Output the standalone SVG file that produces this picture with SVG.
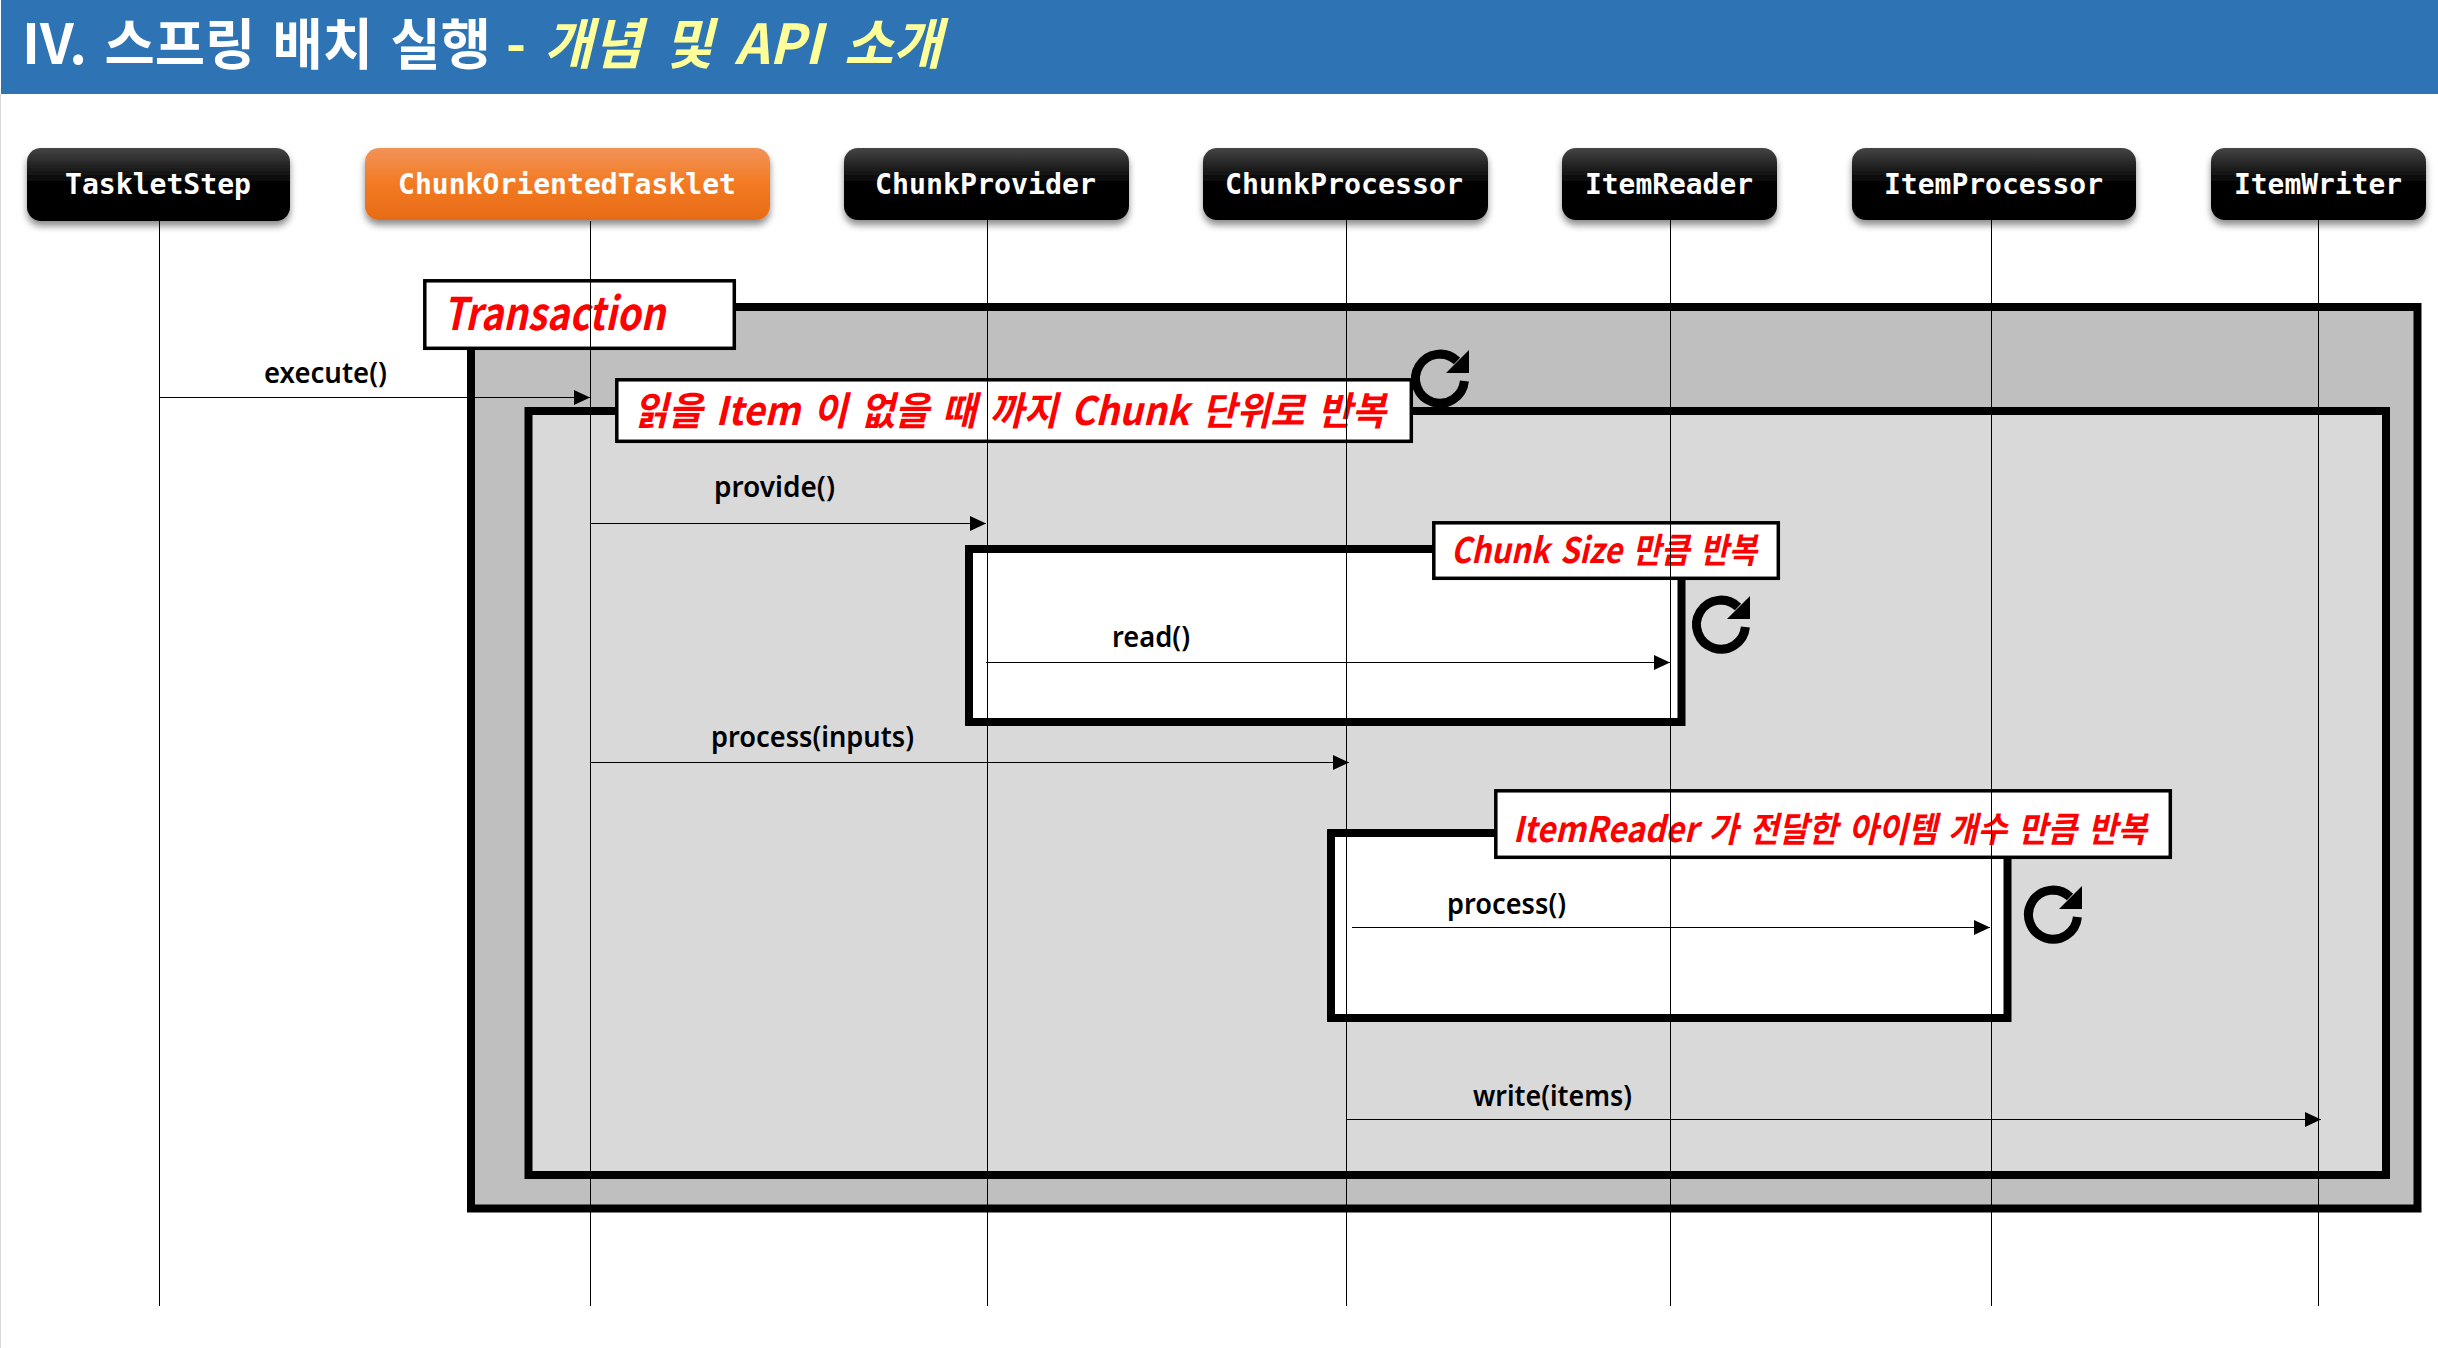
<svg xmlns="http://www.w3.org/2000/svg" xmlns:xlink="http://www.w3.org/1999/xlink" width="2438" height="1348" viewBox="0 0 2438 1348">
<defs>
<style>
.actor{font:bold 28px "DejaVu Sans Mono","Liberation Mono",monospace;fill:#fff;text-anchor:start}
.life{stroke:#000;stroke-width:1;fill:none}
.msg{stroke:#000;stroke-width:1;fill:none;marker-end:url(#ah)}
.lbl{font:600 28px "Noto Sans","Noto Sans CJK KR",sans-serif;fill:#000}
.cap{font:italic bold 39px "Noto Sans CJK KR","Noto Sans",sans-serif;fill:#f00;word-spacing:5px}
.capbox{fill:#fff;stroke:#000;stroke-width:3.5}
.frame{stroke:#000;stroke-width:8}
.ttl{font-family:"Noto Sans CJK KR",sans-serif;font-weight:700;font-size:55px;word-spacing:10px}
</style>
<linearGradient id="gk" x1="0" y1="0" x2="0" y2="1"><stop offset="0" stop-color="#454545"/><stop offset=".5" stop-color="#000"/><stop offset="1" stop-color="#000"/></linearGradient>
<linearGradient id="go" x1="0" y1="0" x2="0" y2="1"><stop offset="0" stop-color="#f29358"/><stop offset=".5" stop-color="#f37a22"/><stop offset="1" stop-color="#e76b16"/></linearGradient>
<filter id="sh" x="-10%" y="-20%" width="120%" height="150%"><feDropShadow dx="0" dy="5" stdDeviation="3.5" flood-color="#000" flood-opacity=".45"/></filter>
<marker id="ah" markerUnits="userSpaceOnUse" markerWidth="16" markerHeight="16" refX="16" refY="8" orient="auto"><path d="M0 0.5L16 8L0 15.5Z" fill="#000"/></marker>
<symbol id="loop" viewBox="0 0 58 58" overflow="visible"><path d="M46 12A24.5 24.5 0 1 0 53.4 32" fill="none" stroke="#000" stroke-width="9"/><path d="M58 1V24H35Z" fill="#000"/></symbol>
</defs>
<rect width="2438" height="1348" fill="#fff"/>
<rect x="0" y="94" width="1" height="1254" fill="#d9d9d9"/>
<g id="header">
<rect x="1" y="0" width="2437" height="94" fill="#2e74b5"/>
<text class="ttl" x="22" y="64" fill="#fff" style="word-spacing:5px" textLength="469" lengthAdjust="spacingAndGlyphs">IV. 스프링 배치 실행</text>
<text class="ttl" x="506" y="64" fill="#ffff99" textLength="20" lengthAdjust="spacingAndGlyphs">-</text>
<text class="ttl" x="544" y="64" font-style="italic" fill="#ffff99" textLength="398" lengthAdjust="spacingAndGlyphs">개념 및 API 소개</text>
</g>
<g id="frame-transaction"><rect class="frame" x="471" y="307" width="1946.5" height="901.5" fill="#bfbfbf"/></g>
<g id="frame-chunk"><rect class="frame" x="528.5" y="411" width="1857.5" height="764" fill="#d9d9d9"/></g>
<g id="frame-read"><rect class="frame" x="969" y="549" width="712.5" height="173" fill="#fff"/></g>
<g id="frame-process"><rect class="frame" x="1331" y="833" width="676.5" height="185" fill="#fff"/></g>
<g id="label-transaction"><rect class="capbox" x="424.8" y="280.8" width="309.5" height="67.5"/><text class="cap" x="443" y="330" style="font-size:45px" textLength="222" lengthAdjust="spacingAndGlyphs">Transaction</text></g>
<g id="label-chunk"><rect class="capbox" x="616.8" y="379.8" width="794.5" height="61.5"/><text class="cap" x="634" y="425" textLength="752" lengthAdjust="spacingAndGlyphs">읽을 Item 이 없을 때 까지 Chunk 단위로 반복</text></g>
<g id="label-size"><rect class="capbox" x="1433.8" y="522.8" width="344.5" height="55.5"/><text class="cap" x="1451" y="563" style="font-size:35px;word-spacing:4px" textLength="306" lengthAdjust="spacingAndGlyphs">Chunk Size 만큼 반복</text></g>
<g id="label-item"><rect class="capbox" x="1495.8" y="790.8" width="674.5" height="66.5"/><text class="cap" x="1513" y="842" style="font-size:35px;word-spacing:4px" textLength="634" lengthAdjust="spacingAndGlyphs">ItemReader 가 전달한 아이템 개수 만큼 반복</text></g>
<use id="loop-1" xlink:href="#loop" href="#loop" x="1411" y="349" width="58" height="58"/>
<use id="loop-2" xlink:href="#loop" href="#loop" x="1692" y="595" width="58" height="58"/>
<use id="loop-3" xlink:href="#loop" href="#loop" x="2024" y="885" width="58" height="58"/>
<g id="connectors">
<path class="life" d="M159.5 221V1306"/>
<path class="life" d="M590.5 221V1306"/>
<path class="life" d="M987.5 220V1306"/>
<path class="life" d="M1346.5 220V1306"/>
<path class="life" d="M1670.5 220V1306"/>
<path class="life" d="M1991.5 220V1306"/>
<path class="life" d="M2318.5 220V1306"/>
<path class="msg" d="M160 397.5H590"/>
<path class="msg" d="M590 523.5H986"/>
<path class="msg" d="M986 662.5H1670"/>
<path class="msg" d="M590 762.5H1349"/>
<path class="msg" d="M1352 927.5H1990"/>
<path class="msg" d="M1347 1119.5H2321"/>
</g>
<g id="msg-labels">
<text class="lbl" x="264" y="383" textLength="123" lengthAdjust="spacingAndGlyphs">execute()</text>
<text class="lbl" x="714" y="497" textLength="121" lengthAdjust="spacingAndGlyphs">provide()</text>
<text class="lbl" x="1112" y="647" textLength="78" lengthAdjust="spacingAndGlyphs">read()</text>
<text class="lbl" x="711" y="747" textLength="203" lengthAdjust="spacingAndGlyphs">process(inputs)</text>
<text class="lbl" x="1447" y="914" textLength="119" lengthAdjust="spacingAndGlyphs">process()</text>
<text class="lbl" x="1473" y="1106" textLength="159" lengthAdjust="spacingAndGlyphs">write(items)</text>
</g>
<g id="actor-taskletstep"><rect x="27" y="148" width="263" height="73" rx="14" fill="url(#gk)" filter="url(#sh)"/><text class="actor" x="65" y="194" textLength="186" lengthAdjust="spacingAndGlyphs">TaskletStep</text></g>
<g id="actor-chunkorientedtasklet"><rect x="365" y="148" width="405" height="72" rx="14" fill="url(#go)" filter="url(#sh)"/><text class="actor" x="398" y="194" textLength="338" lengthAdjust="spacingAndGlyphs">ChunkOrientedTasklet</text></g>
<g id="actor-chunkprovider"><rect x="844" y="148" width="285" height="72" rx="14" fill="url(#gk)" filter="url(#sh)"/><text class="actor" x="875" y="194" textLength="221" lengthAdjust="spacingAndGlyphs">ChunkProvider</text></g>
<g id="actor-chunkprocessor"><rect x="1203" y="148" width="285" height="72" rx="14" fill="url(#gk)" filter="url(#sh)"/><text class="actor" x="1225" y="194" textLength="238" lengthAdjust="spacingAndGlyphs">ChunkProcessor</text></g>
<g id="actor-itemreader"><rect x="1562" y="148" width="215" height="72" rx="14" fill="url(#gk)" filter="url(#sh)"/><text class="actor" x="1585" y="194" textLength="168" lengthAdjust="spacingAndGlyphs">ItemReader</text></g>
<g id="actor-itemprocessor"><rect x="1852" y="148" width="284" height="72" rx="14" fill="url(#gk)" filter="url(#sh)"/><text class="actor" x="1884" y="194" textLength="219" lengthAdjust="spacingAndGlyphs">ItemProcessor</text></g>
<g id="actor-itemwriter"><rect x="2211" y="148" width="215" height="72" rx="14" fill="url(#gk)" filter="url(#sh)"/><text class="actor" x="2234" y="194" textLength="168" lengthAdjust="spacingAndGlyphs">ItemWriter</text></g>
</svg>
